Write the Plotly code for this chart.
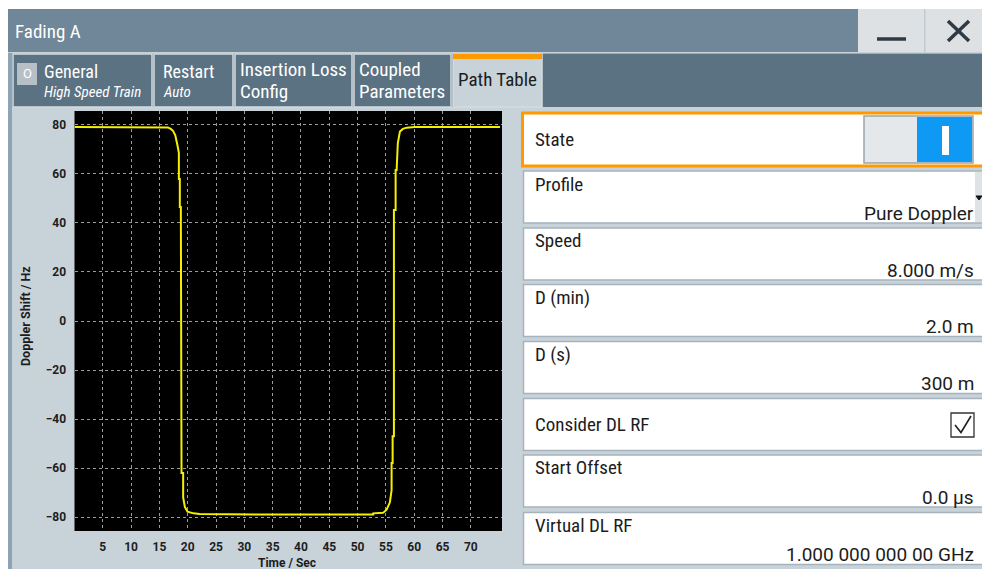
import plotly.graph_objects as go

W, H = 982, 569

# ---- Doppler shift trace (high speed train scenario) ----
time_s = [0.0, 15.5, 16.5, 17.0, 17.4, 17.8, 18.0, 18.2, 18.43, 18.43, 18.6, 18.6,
          18.78, 18.78, 18.9, 18.9, 19.19, 19.19, 19.5, 19.96, 21.0, 22.1, 35.0,
          52.76, 52.76, 54.5, 55.12, 55.7, 56.0, 56.0, 56.18, 56.18, 56.41, 56.41,
          56.71, 56.71, 56.89, 57.1, 57.47, 58.0, 58.66, 60.12, 75.14]
doppler_hz = [79.2, 79.2, 79.0, 78.4, 77.6, 75.8, 74.0, 71.5, 68.6, 58.0, 58.0, 46.5,
              46.5, -20.0, -20.0, -62.0, -62.0, -72.0, -76.0, -77.8, -78.5, -78.8, -79.0,
              -79.0, -78.5, -78.3, -77.0, -74.0, -69.0, -58.0, -58.0, -47.0, -47.0, 45.3,
              45.3, 61.6, 61.6, 72.6, 77.3, 78.4, 78.9, 79.2, 79.2]

x_ticks = [5, 10, 15, 20, 25, 30, 35, 40, 45, 50, 55, 60, 65, 70]
y_ticks = [-80, -60, -40, -20, 0, 20, 40, 60, 80]
x_range = [0, 75.5]
y_range = [-85.7, 85.7]
x_title = "Time / Sec"
y_title = "Doppler Shift / Hz"

# ---- dialog texts ----
window_title = "Fading A"
tab_titles = ["General", "Restart", "Insertion Loss", "Coupled", "Path Table"]
tab_lines2 = ["High Speed Train", "Auto", "Config", "Parameters", ""]
field_labels = ["Profile", "Speed", "D (min)", "D (s)", "Consider DL RF",
                "Start Offset", "Virtual DL RF"]
field_values = ["Pure Doppler", "8.000 m/s", "2.0 m", "300 m", "",
                "0.0 µs", "1.000 000 000 00 GHz"]

# ---- colours ----
TITLE_BG = "#6f8799"
TAB_BG = "#5b7283"
PANEL_BG = "#c8d2d9"
BTN_BG = "#dde1e4"
ORANGE = "#ff9900"
BORDER = "#a7b3bc"
TEXT = "#1c1c1c"
UI_FONT = "Roboto"
COND_FONT = "Roboto Condensed, Liberation Sans Narrow, Roboto"

# plot area in pixels
PL, PR, PT, PB = 74.5, 502.0, 111.0, 531.0


def px(x):
    return x / W


def py(y):
    return 1 - y / H


shapes = []
annotations = []


def rect(x0, y0, x1, y1, fill, line=None, lw=0):
    shapes.append(dict(type="rect", xref="paper", yref="paper",
                       x0=px(x0), x1=px(x1), y0=py(y1), y1=py(y0),
                       fillcolor=fill, layer="below",
                       line=dict(color=line or fill, width=lw)))


def seg(x0, y0, x1, y1, color, lw):
    shapes.append(dict(type="line", xref="paper", yref="paper",
                       x0=px(x0), x1=px(x1), y0=py(y0), y1=py(y1),
                       layer="above", line=dict(color=color, width=lw)))


def path(points, color, lw, fill=None, closed=False):
    d = "M " + " L ".join(f"{px(a):.5f},{py(b):.5f}" for a, b in points)
    if closed:
        d += " Z"
    shapes.append(dict(type="path", xref="paper", yref="paper", path=d,
                       layer="above", fillcolor=fill or "rgba(0,0,0,0)",
                       line=dict(color=color, width=lw)))


def text(x, y, s, size=17, color=TEXT, anchor="left", family=UI_FONT,
         weight="normal", style="normal", angle=0):
    annotations.append(dict(xref="paper", yref="paper", x=px(x), y=py(y),
                            text=s, showarrow=False, xanchor=anchor,
                            yanchor="middle", textangle=angle,
                            font=dict(family=family, size=size, color=color,
                                      weight=weight, style=style)))


# window frame
rect(8, 9, 858, 52, TITLE_BG)
rect(858, 9, 924, 52, BTN_BG)
rect(925, 9, 982, 52, BTN_BG)
rect(924, 9, 925.5, 52, "#c3cacf")
rect(8, 52, 982, 53.5, "#c9d1d7")
rect(8, 53.5, 982, 107, TAB_BG)
rect(8, 107, 982, 569, PANEL_BG)
rect(8, 53, 12, 569, "#8ea3b3")
text(13, 31, window_title, size=19, color="white", family=COND_FONT)
seg(877, 39, 906, 39, "#2f3a44", 3.5)
seg(948, 21, 969, 41, "#2f3a44", 3.5)
seg(948, 41, 969, 21, "#2f3a44", 3.5)

# tabs
tab_edges = [12, 153, 234, 353, 452, 543]
for i, (t1, t2) in enumerate(zip(tab_titles, tab_lines2)):
    x0, x1 = tab_edges[i], tab_edges[i + 1]
    active = i == len(tab_titles) - 1
    rect(x0 + 1, 54, x1 - 1, 107, PANEL_BG if active else TAB_BG,
         line="#d3dae0", lw=1.5)
    if active:
        rect(x0 + 1, 54, x1 - 1, 59, ORANGE)
        text(x0 + 4, 80, t1, color=TEXT, family=COND_FONT, size=19)
    elif i == 0:
        rect(17, 63, 37, 85, "#b7c0c6")
        text(27, 74, "O", size=13, color="white", anchor="center")
        text(42, 72, t1, color="white", family=COND_FONT, size=18)
        text(42, 92, t2, color="white", family=COND_FONT, size=15, style="italic")
    elif i == 1:
        text(x0 + 8, 72, t1, color="white", family=COND_FONT, size=18)
        text(x0 + 8, 92, t2, color="white", family=COND_FONT, size=15, style="italic")
    else:
        text(x0 + 4, 69, t1, color="white", family=COND_FONT, size=19)
        text(x0 + 4, 91, t2, color="white", family=COND_FONT, size=19)

# parameter fields
rect(522.5, 113, 990, 166, "white", line=ORANGE, lw=3)
text(533, 139, "State", family=COND_FONT, size=19)
rect(864, 116, 973, 163, "#e4e8eb", line="#9aa5ae", lw=1.5)
rect(917, 117, 972, 162, "#0e9af4")
shapes.append(dict(type="rect", xref="paper", yref="paper", layer="above",
                   x0=px(942), x1=px(949), y0=py(155), y1=py(126),
                   fillcolor="white", line=dict(color="white", width=0)))

field_tops = [171, 228, 284.5, 341.5, 398.5, 455, 512.5]
for top, lab, val in zip(field_tops, field_labels, field_values):
    rect(523.5, top, 990, top + 52, "white", line=BORDER, lw=1.5)
    if val:
        text(533, top + 13, lab, family=COND_FONT, size=19)
        text(976, top + 42, val, size=19, anchor="right")
    else:
        text(533, top + 26, lab, family=COND_FONT, size=19)

# profile drop-down handle
rect(975, 172, 982, 222, "#dfe3e6")
path([(976, 196), (982, 196), (979, 200)], "#111", 1, fill="#111", closed=True)

# checkbox
rect(951, 413, 974, 437, "white", line="#333", lw=1.3)
path([(955, 425), (961, 432.5), (971, 416)], "#222", 1.6)

# chart background
rect(PL, PT, PR, PB, "black")

# axis titles
text(287, 563, x_title, size=12, weight="bold", anchor="center")
text(25, 316, y_title, size=12.5, weight="bold", anchor="center", angle=-90)

fig = go.Figure()
fig.add_trace(go.Scatter(x=time_s, y=doppler_hz, mode="lines",
                         line=dict(color="#f5f000", width=2),
                         hoverinfo="skip", showlegend=False))

tick_font = dict(family=UI_FONT, size=12, color="#1e1e1e", weight="bold")
fig.update_layout(
    width=W, height=H,
    margin=dict(l=0, r=0, t=0, b=0),
    paper_bgcolor="white",
    plot_bgcolor="rgba(0,0,0,0)",
    shapes=shapes,
    annotations=annotations,
    xaxis=dict(domain=[px(PL), px(PR)], range=x_range, tickvals=x_ticks,
               showgrid=True, gridcolor="#9c9c9c", griddash="dot", gridwidth=1,
               zeroline=False, showline=False, ticks="outside", ticklen=5,
               tickcolor="rgba(0,0,0,0)", tickfont=tick_font, fixedrange=True),
    yaxis=dict(domain=[py(PB), py(PT)], range=y_range, tickvals=y_ticks,
               showgrid=True, gridcolor="#9c9c9c", griddash="dot", gridwidth=1,
               zeroline=False, showline=False, ticks="outside", ticklen=5,
               tickcolor="rgba(0,0,0,0)", tickfont=tick_font, fixedrange=True),
)

fig.write_html("out.html")
